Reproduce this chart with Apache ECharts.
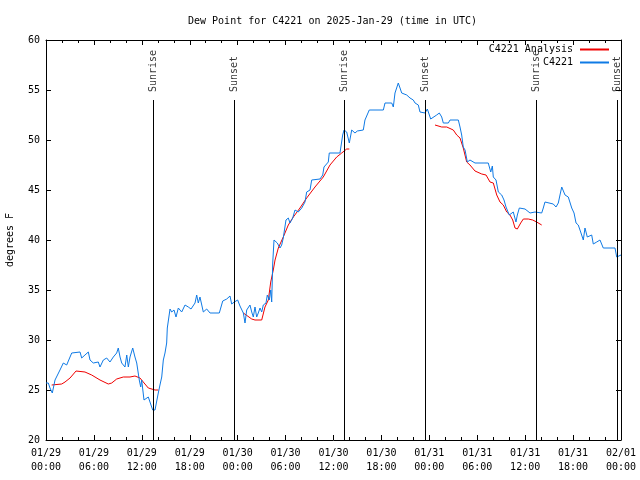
<!DOCTYPE html>
<html>
<head>
<meta charset="utf-8">
<script src="https://cdn.jsdelivr.net/npm/echarts@6/dist/echarts.min.js"></script>
<style>html,body{margin:0;padding:0;background:#fff}#chart{width:640px;height:480px}</style>
</head>
<body>
<div id="chart"></div>
<script>
// hours since 2025-01-29 00:00 UTC
var obsTime = [0,0.29,0.50,0.79,1.13,1.75,2.17,2.59,3.22,3.42,4.26,4.47,4.88,5.30,5.51,5.92,6.14,6.55,6.76,7.18,7.60,8.01,8.43,8.85,9.05,9.27,9.48,9.89,10.11,10.31,10.52,10.86,11.14,11.36,11.68,11.86,11.98,12.27,12.81,13.02,13.36,13.65,14.06,14.27,14.49,14.69,14.90,15.11,15.19,15.53,15.74,16.03,16.28,16.57,16.99,17.41,17.82,18.16,18.66,18.87,19.07,19.28,19.70,20.12,20.54,21.70,22.13,22.63,23.04,23.25,23.58,24.00,24.29,24.71,24.92,25.13,25.54,25.76,25.96,26.17,26.38,26.58,26.80,27.01,27.21,27.55,27.71,27.96,28.14,28.26,28.39,28.55,28.80,28.96,29.30,29.51,29.71,29.92,30.05,30.34,30.55,30.89,31.18,31.59,32.02,32.43,32.64,33.06,33.27,34.31,34.65,34.81,35.35,35.47,36.81,37.15,37.32,37.65,37.98,38.28,38.69,38.98,39.73,39.94,40.48,42.24,42.45,43.29,43.49,43.70,44.11,44.33,44.54,45.17,45.58,45.99,46.21,46.62,46.83,47.46,47.75,48.00,48.17,48.42,48.92,49.25,49.55,49.75,50.38,50.59,51.63,51.84,52.05,52.25,52.47,52.76,53.09,53.72,55.38,55.69,55.89,56.01,56.35,56.64,57.06,57.35,57.60,58.01,58.51,58.85,59.02,59.27,59.98,60.61,61.23,62.07,62.27,62.48,62.70,63.52,63.86,64.15,64.36,64.58,64.99,65.40,65.83,66.12,66.37,66.65,66.95,67.28,67.49,67.78,68.33,68.53,68.96,69.37,69.58,69.78,71.25,71.46,71.66,72.00];
var obsDew = [25.7,25.7,25.2,24.7,26.0,27.0,27.7,27.5,28.7,28.8,28.8,28.2,28.5,28.8,28.0,27.7,27.5,27.8,27.3,28.0,28.2,27.8,28.3,28.7,29.2,28.3,27.7,27.3,28.5,27.3,28.3,29.2,28.3,27.7,26.0,25.3,26.0,24.0,24.3,23.8,23.0,23.0,24.7,25.5,26.3,28.0,28.7,29.7,31.2,33.1,32.8,33.0,32.3,33.2,32.8,33.5,33.3,33.1,33.7,34.5,33.7,34.3,32.8,33.1,32.7,32.7,33.9,34.1,34.4,33.6,33.8,34.0,33.4,32.7,31.7,33.0,33.5,32.8,32.3,33.3,32.3,32.7,33.2,32.8,33.5,33.7,34.5,34.0,35.0,33.8,37.7,40.0,40.2,39.7,39.2,39.5,40.2,40.3,42.0,42.2,41.7,42.2,43.0,42.8,43.2,43.8,44.8,45.0,46.0,46.1,46.5,47.3,47.8,48.7,48.7,50.5,51.0,50.8,49.7,51.0,50.7,50.9,51.0,52.0,53.0,53.0,53.7,53.7,53.3,54.7,55.7,55.2,54.7,54.5,54.2,54.0,53.7,53.5,52.8,52.7,53.1,53.0,52.1,52.3,52.5,52.7,52.3,51.7,51.7,52.0,52.0,51.3,50.5,49.3,49.0,47.8,48.0,47.7,47.7,46.8,47.4,46.3,46.0,44.8,44.5,44.0,43.3,42.5,42.8,41.8,42.5,43.2,43.1,42.7,42.8,42.7,43.2,43.8,43.6,43.6,43.3,43.7,44.5,45.3,44.5,44.3,43.2,42.7,41.7,41.5,40.8,40.0,41.2,40.3,40.5,39.6,39.8,40.0,40.2,39.2,39.2,38.3,38.5,38.5];
var anaTime = [0.71,1.97,2.38,3.01,3.76,4.88,5.72,6.76,7.80,8.23,8.85,9.68,10.52,11.14,11.77,12.18,12.81,13.65,14.06,14.5,24.71,25.76,26.17,27.01,27.42,27.84,28.14,28.46,28.68,29.09,29.71,30.34,30.97,31.80,32.64,33.68,34.72,35.56,36.40,37.03,37.65,37.98,38.5,48.71,49.55,50.18,51.00,51.43,51.84,52.25,52.68,53.09,53.72,54.56,55.10,55.60,56.01,56.44,56.85,57.26,57.69,58.10,58.44,58.73,59.02,59.44,59.77,60.39,60.94,61.44,62.07];
var anaDew = [25.5,25.6,25.8,26.2,26.9,26.8,26.5,26.0,25.6,25.7,26.1,26.3,26.3,26.4,26.2,25.8,25.2,25.0,25.0,null,32.7,32.1,32.0,32.0,33.3,34.0,35.8,37.0,38.0,39.2,40.3,41.5,42.3,43.2,44.2,45.3,46.3,47.5,48.3,48.7,49.1,49.1,null,51.5,51.3,51.3,51.0,50.5,50.2,49.2,47.8,47.5,46.9,46.6,46.5,45.8,45.7,44.5,43.8,43.5,42.8,42.5,42.0,41.2,41.1,41.7,42.1,42.1,42.0,41.8,41.5];
var sunTime = [13.40, 23.54, 37.32, 47.46, 61.36, 71.50];
var sunLabels = ['Sunrise','Sunset','Sunrise','Sunset','Sunrise','Sunset'];
var dateLabels = ['01/29','01/29','01/29','01/29','01/30','01/30','01/30','01/30','01/31','01/31','01/31','01/31','02/01'];
var timeLabels = ['00:00','06:00','12:00','18:00','00:00','06:00','12:00','18:00','00:00','06:00','12:00','18:00','00:00'];

var FONT = 'DejaVu Sans Mono';
function pairs(t, v) { return t.map(function (x, i) { return [x, v[i]]; }); }

var sunLines = sunTime.map(function (t) { return [{ coord: [t, 54] }, { coord: [t, 20] }]; });
var sunPts = sunTime.map(function (t) { return [t, 54.8]; });

var xCommon = {
  type: 'value', min: 0, max: 72, interval: 6,
  axisLine: { show: true, onZero: false, lineStyle: { color: '#000', width: 1 } },
  axisTick: { show: true, inside: true, length: 5, lineStyle: { color: '#000' } },
  minorTick: { show: true, splitNumber: 3, length: 3, lineStyle: { color: '#000' } },
  splitLine: { show: false }, minorSplitLine: { show: false }
};
var yCommon = {
  type: 'value', min: 20, max: 60, interval: 5,
  axisLine: { show: true, onZero: false, lineStyle: { color: '#000', width: 1 } },
  axisTick: { show: true, inside: true, length: 5, lineStyle: { color: '#000' } },
  splitLine: { show: false }
};

var chart = echarts.init(document.getElementById('chart'), null, { renderer: 'canvas' });
chart.setOption({
  animation: false,
  backgroundColor: '#fff',
  title: {
    text: 'Dew Point for C4221 on 2025-Jan-29 (time in UTC)',
    left: 188, top: 16, padding: 0,
    textStyle: { fontFamily: FONT, fontSize: 10, fontWeight: 'normal', color: '#000' }
  },
  legend: {
    orient: 'vertical', right: 30, top: 43, align: 'right',
    itemWidth: 29, itemHeight: 13, itemGap: 0, padding: 0,
    itemStyle: { opacity: 0, borderWidth: 0 },
    data: ['C4221 Analysis', 'C4221'],
    textStyle: { fontFamily: FONT, fontSize: 10, color: '#000', lineHeight: 13, padding: [0, 2, 0, 0] }
  },
  grid: { left: 46, right: 19, top: 40, bottom: 40, containLabel: false, outerBoundsMode: 'none' },
  xAxis: [
    Object.assign({}, xCommon, {
      position: 'bottom',
      axisLabel: {
        fontFamily: FONT, fontSize: 10, color: '#000', margin: 6, lineHeight: 14,
        formatter: function (v) { var i = Math.round(v / 6); return dateLabels[i] + '\n' + timeLabels[i]; }
      }
    }),
    Object.assign({}, xCommon, { position: 'top', axisLabel: { show: false } })
  ],
  yAxis: [
    Object.assign({}, yCommon, {
      position: 'left',
      name: 'degrees F', nameLocation: 'middle', nameRotate: 90, nameGap: 31,
      nameTextStyle: { fontFamily: FONT, fontSize: 10, color: '#000' },
      axisLabel: { fontFamily: FONT, fontSize: 10, color: '#000', margin: 6 }
    }),
    Object.assign({}, yCommon, { position: 'right', axisLabel: { show: false } })
  ],
  series: [
    {
      name: 'C4221 Analysis', type: 'line', symbol: 'none', connectNulls: false,
      data: pairs(anaTime, anaDew),
      lineStyle: { color: '#f00000', width: 1 }, itemStyle: { color: '#f00000' },
      z: 3
    },
    {
      name: 'C4221', type: 'line', symbol: 'none',
      data: pairs(obsTime, obsDew),
      lineStyle: { color: '#0f7ae5', width: 1 }, itemStyle: { color: '#0f7ae5' },
      z: 4,
      markLine: {
        silent: true, symbol: ['none', 'none'], animation: false,
        label: { show: false },
        lineStyle: { color: '#000', width: 1, type: 'solid' },
        data: sunLines
      }
    },
    {
      name: 'sun', type: 'scatter', symbolSize: 1, silent: true,
      itemStyle: { color: 'rgba(0,0,0,0)' },
      data: sunPts, z: 5,
      label: {
        show: true, position: 'inside', rotate: 90, align: 'left', verticalAlign: 'middle',
        fontFamily: FONT, fontSize: 10, color: '#000',
        formatter: function (p) { return sunLabels[p.dataIndex]; }
      }
    }
  ]
});
</script>
</body>
</html>
